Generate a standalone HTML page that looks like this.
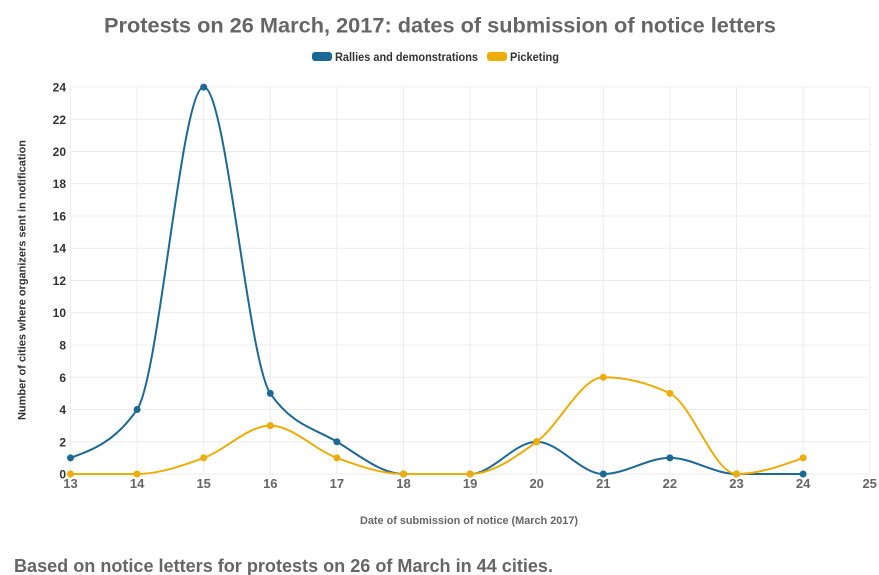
<!DOCTYPE html>
<html>
<head>
<meta charset="utf-8">
<style>
html,body{margin:0;padding:0;background:#fff;}
svg{display:block;font-family:"Liberation Sans",sans-serif;}
</style>
</head>
<body>
<svg width="879" height="575" viewBox="0 0 879 575" xmlns="http://www.w3.org/2000/svg">
<rect width="879" height="575" fill="#fff"/>
<!-- Title -->
<text x="104" y="32.5" font-size="21.5" font-weight="bold" fill="#666" textLength="672" lengthAdjust="spacingAndGlyphs">Protests on 26 March, 2017: dates of submission of notice letters</text>
<!-- Legend -->
<rect x="312" y="52" width="20" height="9" rx="3" fill="#1d6996"/>
<text x="335" y="61" font-size="12" font-weight="bold" fill="#333" textLength="143" lengthAdjust="spacingAndGlyphs">Rallies and demonstrations</text>
<rect x="487" y="52" width="20" height="9" rx="3" fill="#edad08"/>
<text x="510" y="61" font-size="12" font-weight="bold" fill="#333" textLength="49" lengthAdjust="spacingAndGlyphs">Picketing</text>
<!-- Grid -->
<g stroke="#ececec" stroke-width="1" fill="none">
<line x1="70.5" y1="87" x2="869.7" y2="87"/>
<line x1="70.5" y1="119.3" x2="869.7" y2="119.3"/>
<line x1="70.5" y1="151.5" x2="869.7" y2="151.5"/>
<line x1="70.5" y1="183.7" x2="869.7" y2="183.7"/>
<line x1="70.5" y1="216" x2="869.7" y2="216"/>
<line x1="70.5" y1="248.2" x2="869.7" y2="248.2"/>
<line x1="70.5" y1="280.5" x2="869.7" y2="280.5"/>
<line x1="70.5" y1="312.7" x2="869.7" y2="312.7"/>
<line x1="70.5" y1="345" x2="869.7" y2="345"/>
<line x1="70.5" y1="377.3" x2="869.7" y2="377.3"/>
<line x1="70.5" y1="409.5" x2="869.7" y2="409.5"/>
<line x1="70.5" y1="441.8" x2="869.7" y2="441.8"/>
<line x1="70.5" y1="474" x2="869.7" y2="474"/>
<line x1="70.5" y1="87" x2="70.5" y2="474"/>
<line x1="137.1" y1="87" x2="137.1" y2="474"/>
<line x1="203.7" y1="87" x2="203.7" y2="474"/>
<line x1="270.3" y1="87" x2="270.3" y2="474"/>
<line x1="336.9" y1="87" x2="336.9" y2="474"/>
<line x1="403.5" y1="87" x2="403.5" y2="474"/>
<line x1="470.1" y1="87" x2="470.1" y2="474"/>
<line x1="536.7" y1="87" x2="536.7" y2="474"/>
<line x1="603.3" y1="87" x2="603.3" y2="474"/>
<line x1="669.9" y1="87" x2="669.9" y2="474"/>
<line x1="736.5" y1="87" x2="736.5" y2="474"/>
<line x1="803.1" y1="87" x2="803.1" y2="474"/>
<line x1="869.7" y1="87" x2="869.7" y2="474"/>
</g>
<!-- Y tick labels -->
<g font-size="12" font-weight="bold" fill="#333" text-anchor="end">
<text x="66" y="91.5">24</text>
<text x="66" y="123.8">22</text>
<text x="66" y="156">20</text>
<text x="66" y="188.2">18</text>
<text x="66" y="220.5">16</text>
<text x="66" y="252.7">14</text>
<text x="66" y="285">12</text>
<text x="66" y="317.2">10</text>
<text x="66" y="349.5">8</text>
<text x="66" y="381.8">6</text>
<text x="66" y="414">4</text>
<text x="66" y="446.3">2</text>
<text x="66" y="478.5">0</text>
</g>
<!-- X tick labels -->
<g font-size="13" font-weight="bold" fill="#666" text-anchor="middle">
<text x="70.5" y="488">13</text>
<text x="137.1" y="488">14</text>
<text x="203.7" y="488">15</text>
<text x="270.3" y="488">16</text>
<text x="336.9" y="488">17</text>
<text x="403.5" y="488">18</text>
<text x="470.1" y="488">19</text>
<text x="536.7" y="488">20</text>
<text x="603.3" y="488">21</text>
<text x="669.9" y="488">22</text>
<text x="736.5" y="488">23</text>
<text x="803.1" y="488">24</text>
<text x="869.7" y="488">25</text>
</g>
<!-- Axis titles -->
<text x="360" y="524" font-size="11" font-weight="bold" fill="#666" textLength="218" lengthAdjust="spacingAndGlyphs">Date of submission of notice (March 2017)</text>
<text transform="translate(25.5,420) rotate(-90)" x="0" y="0" font-size="11" font-weight="bold" fill="#333" textLength="280" lengthAdjust="spacingAndGlyphs">Number of cities where organizers sent in notification</text>
<!-- Blue series -->
<path d="M70.5,457.88 C92.7,449.82 114.9,441.76 137.1,409.52 C159.3,377.28 181.5,87.12 203.7,87.12 C225.9,87.12 248.1,361.16 270.3,393.4 C292.5,425.64 314.7,428.33 336.9,441.76 C359.1,455.19 381.3,474 403.5,474 L470.1,474 C492.3,474 514.5,441.76 536.7,441.76 C558.9,441.76 581.1,474 603.3,474 C625.5,474 647.7,457.88 669.9,457.88 C692.1,457.88 714.3,474 736.5,474 L803.1,474" fill="none" stroke="#1d6996" stroke-width="2"/>
<g fill="#1d6996">
<circle cx="70.5" cy="457.88" r="3.5"/>
<circle cx="137.1" cy="409.52" r="3.5"/>
<circle cx="203.7" cy="87.12" r="3.5"/>
<circle cx="270.3" cy="393.4" r="3.5"/>
<circle cx="336.9" cy="441.76" r="3.5"/>
<circle cx="403.5" cy="474" r="3.5"/>
<circle cx="470.1" cy="474" r="3.5"/>
<circle cx="536.7" cy="441.76" r="3.5"/>
<circle cx="603.3" cy="474" r="3.5"/>
<circle cx="669.9" cy="457.88" r="3.5"/>
<circle cx="736.5" cy="474" r="3.5"/>
<circle cx="803.1" cy="474" r="3.5"/>
</g>
<!-- Orange series -->
<path d="M70.5,474 L137.1,474 C159.3,474 181.5,465.94 203.7,457.88 C225.9,449.82 248.1,425.64 270.3,425.64 C292.5,425.64 314.7,449.82 336.9,457.88 C359.1,465.94 381.3,474 403.5,474 L470.1,474 C492.3,474 514.5,457.88 536.7,441.76 C558.9,425.64 581.1,377.28 603.3,377.28 C625.5,377.28 647.7,382.65 669.9,393.4 C692.1,404.15 714.3,474 736.5,474 C758.7,474 780.9,465.94 803.1,457.88" fill="none" stroke="#edad08" stroke-width="2"/>
<g fill="#edad08">
<circle cx="70.5" cy="474" r="3.5"/>
<circle cx="137.1" cy="474" r="3.5"/>
<circle cx="203.7" cy="457.88" r="3.5"/>
<circle cx="270.3" cy="425.64" r="3.5"/>
<circle cx="336.9" cy="457.88" r="3.5"/>
<circle cx="403.5" cy="474" r="3.5"/>
<circle cx="470.1" cy="474" r="3.5"/>
<circle cx="536.7" cy="441.76" r="3.5"/>
<circle cx="603.3" cy="377.28" r="3.5"/>
<circle cx="669.9" cy="393.4" r="3.5"/>
<circle cx="736.5" cy="474" r="3.5"/>
<circle cx="803.1" cy="457.88" r="3.5"/>
</g>
<!-- Footer -->
<text x="14" y="572" font-size="18" font-weight="bold" fill="#666" textLength="539" lengthAdjust="spacingAndGlyphs">Based on notice letters for protests on 26 of March in 44 cities.</text>
</svg>
</body>
</html>
